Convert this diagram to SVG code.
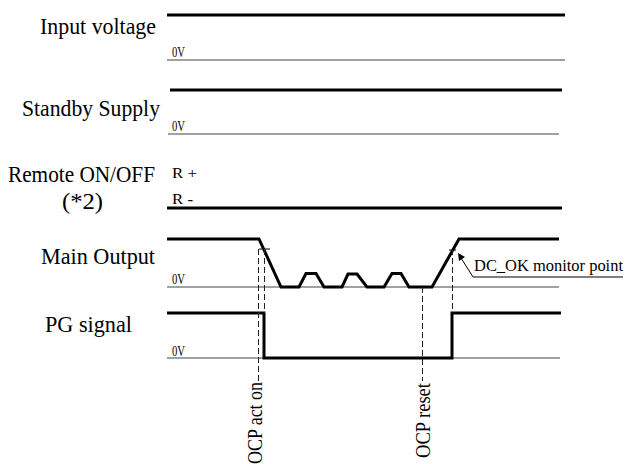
<svg xmlns="http://www.w3.org/2000/svg" width="627" height="464" viewBox="0 0 627 464">
<style>
  text { font-family: "Liberation Serif", "Times New Roman", serif; fill: #000; }
  .lbl { font-size: 24px; }
  .small { font-size: 15px; }
  .thick { stroke: #000; stroke-width: 3; fill: none; }
  .thin { stroke: #444; stroke-width: 1.2; fill: none; }
  .dash { stroke: #222; stroke-width: 1; stroke-dasharray: 6,3; fill: none; }
</style>
<rect width="627" height="464" fill="#fff"/>
<g id="input-voltage">
  <text class="lbl" x="40" y="34" textLength="116" lengthAdjust="spacingAndGlyphs">Input voltage</text>
  <line class="thick" x1="167" y1="15" x2="565" y2="15"/>
  <line class="thin" x1="167" y1="60" x2="565" y2="60"/>
  <text class="small" x="172" y="57" textLength="13" lengthAdjust="spacingAndGlyphs">0V</text>
</g>
<g id="standby-supply">
  <text class="lbl" x="22" y="116" textLength="138" lengthAdjust="spacingAndGlyphs">Standby Supply</text>
  <line class="thick" x1="170" y1="90" x2="562" y2="90"/>
  <line class="thin" x1="168" y1="134" x2="559" y2="134"/>
  <text class="small" x="172" y="131" textLength="13" lengthAdjust="spacingAndGlyphs">0V</text>
</g>
<g id="remote-onoff">
  <text class="lbl" x="8" y="182" textLength="147" lengthAdjust="spacingAndGlyphs">Remote ON/OFF</text>
  <text class="lbl" x="62" y="209" textLength="41" lengthAdjust="spacingAndGlyphs">(*2)</text>
  <text class="small" x="172" y="178" textLength="25" lengthAdjust="spacingAndGlyphs">R +</text>
  <text class="small" x="172" y="204" textLength="21" lengthAdjust="spacingAndGlyphs">R <tspan font-weight="bold">-</tspan></text>
  <line class="thick" x1="167" y1="208" x2="562" y2="208"/>
</g>
<g id="main-output">
  <text class="lbl" x="41" y="264" textLength="114" lengthAdjust="spacingAndGlyphs">Main Output</text>
  <line class="thin" x1="167" y1="287" x2="559" y2="287"/>
  <text class="small" x="172" y="284" textLength="13" lengthAdjust="spacingAndGlyphs">0V</text>
  <polyline class="thick" points="167,239 259,239 281,287 299,287 306,273.5 316,273.5 324,287 342,287 348,274 357,274 367,287 384,287 392,273.5 401,273.5 409,287 432,287 459,239 559,239"/>
  <line stroke="#000" stroke-width="1" x1="259" y1="249" x2="270" y2="249"/>
  <line stroke="#000" stroke-width="1" x1="449" y1="250" x2="456" y2="250"/>
</g>
<g id="dc-ok-label">
  <text x="474" y="271" style="font-size:17px" textLength="149" lengthAdjust="spacingAndGlyphs">DC_OK monitor point</text>
  <polyline stroke="#000" stroke-width="1" fill="none" points="623,277 473,277 461,258"/>
  <polygon points="458,253 465,257 459,261" fill="#000"/>
</g>
<g id="pg-signal">
  <text class="lbl" x="45" y="332" textLength="87" lengthAdjust="spacingAndGlyphs">PG signal</text>
  <line class="thin" x1="167" y1="358" x2="560" y2="358"/>
  <text class="small" x="172" y="356" textLength="13" lengthAdjust="spacingAndGlyphs">0V</text>
  <polyline class="thick" points="167,313 264,313 264,358 452,358 452,313 561,313"/>
</g>
<g id="connectors">
  <line class="dash" x1="258.5" y1="249" x2="258.5" y2="381"/>
  <line class="dash" x1="264.5" y1="249" x2="264.5" y2="313"/>
  <line class="dash" x1="422.5" y1="287" x2="422.5" y2="381"/>
  <line class="dash" x1="452.5" y1="249" x2="452.5" y2="313"/>
</g>
<g id="ocp-labels">
  <text style="font-size:20px" transform="translate(262,464) rotate(-90)" textLength="82" lengthAdjust="spacingAndGlyphs">OCP act on</text>
  <text style="font-size:20px" transform="translate(430,458) rotate(-90)" textLength="75" lengthAdjust="spacingAndGlyphs">OCP reset</text>
</g>
</svg>
